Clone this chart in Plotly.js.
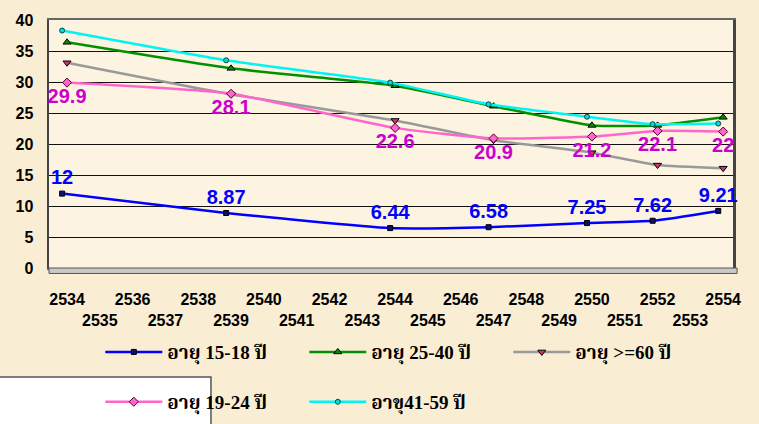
<!DOCTYPE html>
<html>
<head>
<meta charset="utf-8">
<script src="https://cdn.plot.ly/plotly-3.0.1.min.js"></script>
<style>
  html, body { margin: 0; padding: 0; background: #F9EDD4; }
  #chart { width: 759px; height: 424px; }
</style>
</head>
<body>
<div id="chart"></div>
<script>
// ---- data ----
const years = [2534, 2539, 2544, 2547, 2550, 2552, 2554];
const age15_18 = [12, 8.87, 6.44, 6.58, 7.25, 7.62, 9.21];
const age19_24 = [29.9, 28.1, 22.6, 20.9, 21.2, 22.1, 22];
const age25_40 = [36.4, 32.2, 29.4, 26.1, 23.0, 23.0, 24.3];
const age41_59 = [38.3, 33.5, 29.9, 26.4, 24.4, 23.2, 23.3];
const age60up = [33.1, 28.0, 23.8, 20.6, 18.6, 16.6, 16.1];

const seriesNames = ['อายุ 15-18 ปี', 'อายุ 19-24 ปี', 'อายุ 25-40 ปี', 'อาขุ41-59 ปี', 'อายุ >=60 ปี'];

const tickYears = [];
for (let y = 2534; y <= 2554; y++) tickYears.push(y);
const tickLabels = tickYears.map(y => (y % 2 === 0 ? String(y) : '<br>' + y));
const yTicks = [0, 5, 10, 15, 20, 25, 30, 35, 40];

const thaiFont = 'Liberation Serif, Noto Serif Thai, Noto Sans Thai, serif';
const labelFont = 'Liberation Sans, Arial, sans-serif';

const traces = [
  {
    name: seriesNames[2], x: years, y: age25_40, xaxis: 'x', yaxis: 'y',
    mode: 'lines+markers', legend: 'legend', legendrank: 2, cliponaxis: false,
    line: {color: '#009000', width: 2.5, shape: 'spline', smoothing: 0.5},
    marker: {symbol: 'triangle-up', size: 7, color: '#009000', line: {color: '#000', width: 1}}
  },
  {
    name: seriesNames[4], x: years, y: age60up, xaxis: 'x', yaxis: 'y',
    mode: 'lines+markers', legend: 'legend', legendrank: 3, cliponaxis: false,
    line: {color: '#999999', width: 2.5, shape: 'spline', smoothing: 0.5},
    marker: {symbol: 'triangle-down', size: 7, color: '#D6306E', line: {color: '#000', width: 1}}
  },
  {
    name: seriesNames[1], x: years, y: age19_24, xaxis: 'x', yaxis: 'y',
    mode: 'lines+markers+text', legend: 'legend2', legendrank: 4, cliponaxis: false,
    text: age19_24.map(String), textposition: 'bottom center',
    textfont: {family: labelFont, size: 20, color: '#CC00CC', weight: 'bold'},
    line: {color: '#FF66CC', width: 2.5, shape: 'spline', smoothing: 0.5},
    marker: {symbol: 'diamond', size: 7, color: '#FF66CC', line: {color: '#550033', width: 1}}
  },
  {
    name: seriesNames[3], x: years, y: age41_59, xaxis: 'x2', yaxis: 'y',
    mode: 'lines+markers', legend: 'legend2', legendrank: 5, cliponaxis: false,
    line: {color: '#00F4F4', width: 2.5, shape: 'spline', smoothing: 0.5},
    marker: {symbol: 'circle', size: 5, color: '#00DDDD', line: {color: '#114444', width: 1}}
  },
  {
    name: seriesNames[0], x: years, y: age15_18, xaxis: 'x2', yaxis: 'y',
    mode: 'lines+markers+text', legend: 'legend', legendrank: 1, cliponaxis: false,
    text: age15_18.map(String), textposition: 'top center',
    textfont: {family: labelFont, size: 20, color: '#0000FF', weight: 'bold'},
    line: {color: '#0000FF', width: 2.5, shape: 'spline', smoothing: 0.5},
    marker: {symbol: 'square', size: 5, color: '#101070', line: {color: '#000', width: 1}}
  }
];

const legendCommon = {
  orientation: 'h', xanchor: 'left', yanchor: 'middle',
  bgcolor: 'rgba(0,0,0,0)', borderwidth: 0,
  itemwidth: 57, entrywidth: 132, entrywidthmode: 'pixels',
  font: {family: thaiFont, size: 19, color: '#000', weight: 'bold'},
  traceorder: 'normal'
};

const layout = {
  width: 759, height: 424,
  margin: {l: 49, r: 26, t: 20, b: 156, autoexpand: false},
  paper_bgcolor: '#F9EDD4',
  plot_bgcolor: '#FCF3E0',
  showlegend: true,
  xaxis: {
    range: [2533.45, 2554.3], tickmode: 'array', tickvals: tickYears, ticktext: tickLabels,
    tickangle: 0,
    showgrid: false, zeroline: false, ticks: '',
    showline: true, mirror: true, linecolor: '#666', linewidth: 2,
    layer: 'below traces',
    ticklabelstandoff: 16,
    tickfont: {family: labelFont, size: 16, color: '#000', weight: 'bold'}
  },
  xaxis2: {
    overlaying: 'x', range: [2533.6, 2554.45], visible: false
  },
  yaxis: {
    range: [0, 40], tickmode: 'array', tickvals: yTicks,
    showgrid: true, gridcolor: '#111', gridwidth: 1, zeroline: false,
    showline: true, mirror: true, linecolor: '#444', linewidth: 2.5, ticks: '',
    layer: 'below traces',
    ticklabelstandoff: 10,
    tickfont: {family: labelFont, size: 16, color: '#000', weight: 'bold'}
  },
  legend: Object.assign({x: 0.075, y: -0.339}, legendCommon),
  legend2: Object.assign({x: 0.075, y: -0.54}, legendCommon),
  shapes: [
    // white box lower-left
    {type: 'rect', xref: 'paper', yref: 'paper', x0: -0.08, x1: 0.2368, y0: -0.7, y1: -0.4395,
     fillcolor: '#FFFFFF', line: {color: '#555', width: 1.5}, layer: 'above'},
    // floor
    {type: 'rect', xref: 'paper', yref: 'paper', x0: 0, x1: 1.006, y0: -0.022, y1: 0,
     fillcolor: '#C8C8C8', line: {color: '#555', width: 1}, layer: 'above'}
  ]
};

Plotly.newPlot('chart', traces, layout, {displayModeBar: false, staticPlot: true});
</script>
</body>
</html>
